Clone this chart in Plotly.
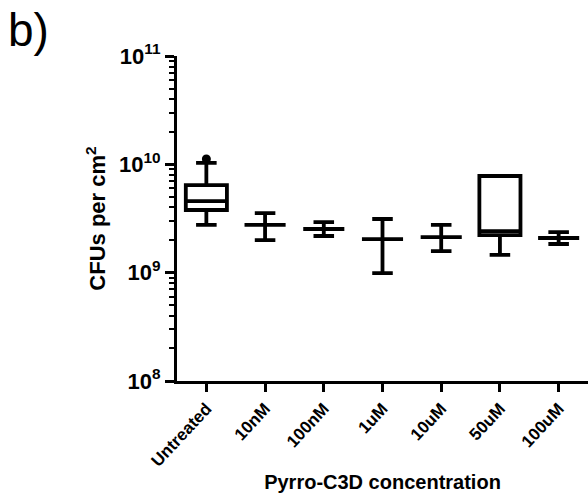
import plotly.graph_objects as go

categories = ["Untreated", "10nM", "100nM", "1uM", "10uM", "50uM", "100uM"]
lower = [2.76e9, 2.0e9, 2.18e9, 0.99e9, 1.58e9, 1.46e9, 1.84e9]
q1 = [3.79e9, 2.76e9, 2.53e9, 2.04e9, 2.13e9, 2.22e9, 2.09e9]
median = [4.58e9, 2.76e9, 2.53e9, 2.04e9, 2.13e9, 2.42e9, 2.09e9]
q3 = [6.44e9, 2.76e9, 2.53e9, 2.04e9, 2.13e9, 7.8e9, 2.09e9]
upper = [1.03e10, 3.55e9, 2.93e9, 3.13e9, 2.76e9, 7.8e9, 2.37e9]
outlier_x = ["Untreated"]
outlier_y = [1.12e10]

ytick_vals = [1e8, 1e9, 1e10, 1e11]
ytick_text = ["10<sup>8</sup>", "10<sup>9</sup>", "10<sup>10</sup>", "10<sup>11</sup>"]
minor_vals = [m * d for d in (1e8, 1e9, 1e10) for m in range(2, 10)]

FONT = "Liberation Sans, Arial, sans-serif"

fig = go.Figure()
fig.add_trace(go.Box(
    x=categories, q1=q1, median=median, q3=q3,
    lowerfence=lower, upperfence=upper,
    width=0.7, whiskerwidth=0.5,
    line=dict(color="black", width=3.8),
    fillcolor="white", boxpoints=False, showlegend=False,
))
fig.add_trace(go.Scatter(
    x=outlier_x, y=outlier_y, mode="markers",
    marker=dict(color="black", size=9), showlegend=False,
))

fig.update_layout(
    width=588, height=498,
    margin=dict(l=177, r=0, t=56, b=117),
    paper_bgcolor="white", plot_bgcolor="white",
    font=dict(family=FONT, color="black"),
    xaxis=dict(
        type="category", range=[-0.5, 6.5],
        showline=True, linecolor="black", linewidth=3,
        ticks="outside", ticklen=8, tickwidth=3, tickcolor="black",
        tickangle=-47, showgrid=False,
        tickfont=dict(family=FONT, size=17, color="black", weight="bold"),
        title=dict(text="<b>Pyrro-C3D concentration</b>", font=dict(size=20), standoff=6),
    ),
    yaxis=dict(
        type="log", range=[8, 11],
        showline=True, linecolor="black", linewidth=3,
        tickvals=ytick_vals, ticktext=ytick_text,
        ticks="outside", ticklen=9, tickwidth=3, tickcolor="black",
        minor=dict(tickvals=minor_vals, ticks="outside", ticklen=5, tickwidth=2,
                   tickcolor="black", showgrid=False),
        showgrid=False, zeroline=False,
        tickfont=dict(family=FONT, size=22, color="black", weight="bold"),
        title=dict(text="<b>CFUs per cm<sup>2</sup></b>", font=dict(size=22), standoff=8),
    ),
    annotations=[dict(
        text="b)", xref="paper", yref="paper", x=-0.415, y=1.165,
        xanchor="left", yanchor="top", showarrow=False,
        font=dict(family=FONT, size=46, color="black"),
    )],
)

fig.write_html("out.html")
